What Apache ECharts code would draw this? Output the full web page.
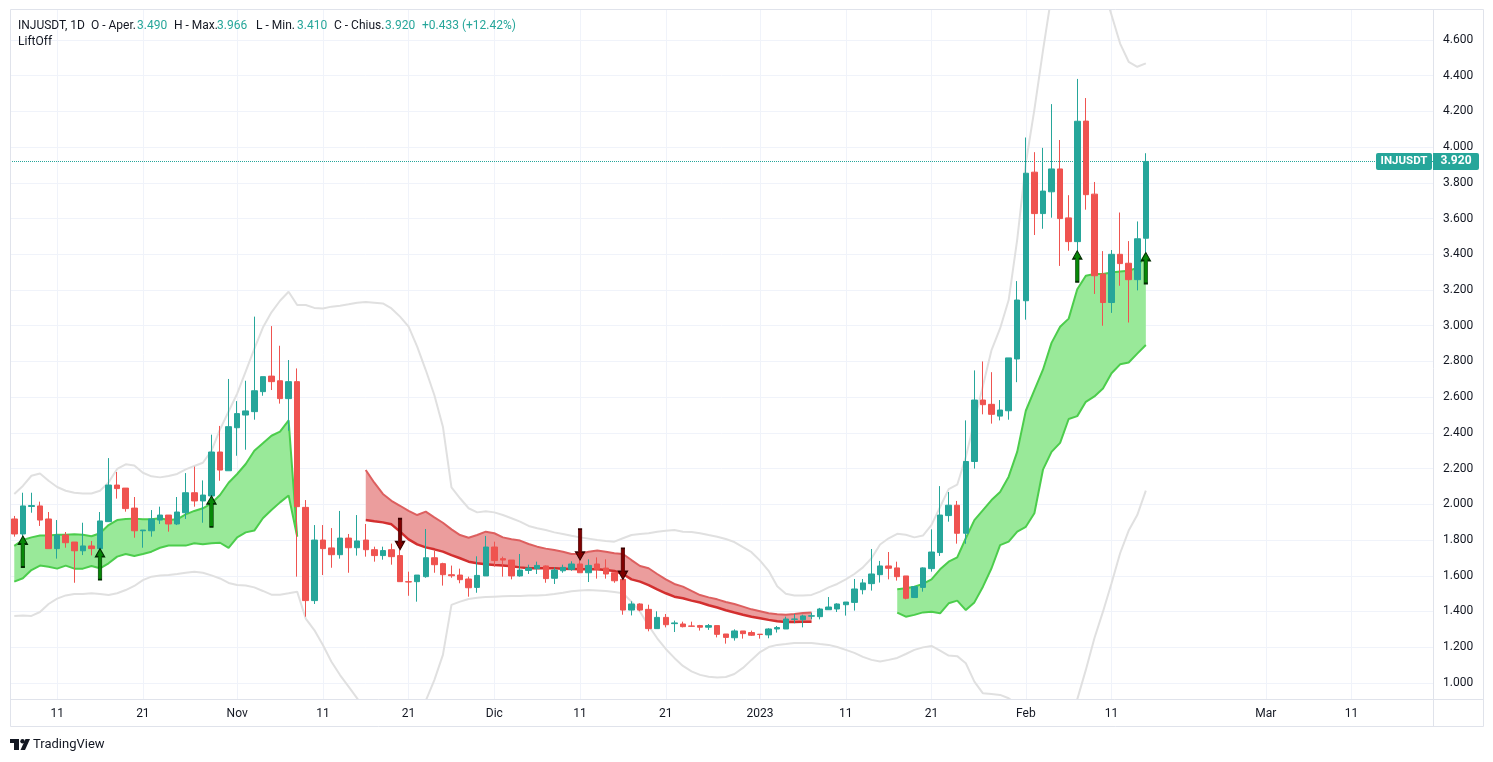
<!DOCTYPE html>
<html><head><meta charset="utf-8">
<script src="https://cdn.jsdelivr.net/npm/echarts@6/dist/echarts.min.js"></script>
<style>html,body{margin:0;padding:0;background:#fff}#c{width:1493px;height:762px}</style>
</head><body><div id="c"></div>
<script>
// ---------- data ----------
const startDate = [2022, 9, 6];   // first category (Oct 6 2022)
const dayCount = 166;             // categories up to Mar 20 2023
const tickLabels = [
  ['2022-10-11','11'],['2022-10-21','21'],['2022-11-01','Nov'],['2022-11-11','11'],['2022-11-21','21'],
  ['2022-12-01','Dic'],['2022-12-11','11'],['2022-12-21','21'],['2023-01-01','2023'],['2023-01-11','11'],
  ['2023-01-21','21'],['2023-02-01','Feb'],['2023-02-11','11'],['2023-03-01','Mar'],['2023-03-11','11']
];
const priceTicks = [1.0,1.2,1.4,1.6,1.8,2.0,2.2,2.4,2.6,2.8,3.0,3.2,3.4,3.6,3.8,4.0,4.2,4.4,4.6];
// [open, high, low, close]
const ohlc = [
[1.918,1.935,1.819,1.834],[1.834,2.065,1.823,1.991],[1.988,2.065,1.953,1.993],[1.991,2.015,1.879,1.912],
[1.918,1.957,1.752,1.752],[1.752,1.912,1.696,1.828],[1.828,1.845,1.757,1.785],[1.789,1.789,1.561,1.740],
[1.740,1.897,1.716,1.767],[1.767,1.795,1.714,1.752],[1.752,1.957,1.752,1.907],[1.903,2.259,1.903,2.108],
[2.108,2.181,2.032,2.088],[2.091,2.091,1.959,1.976],[1.979,2.041,1.813,1.852],[1.852,1.856,1.757,1.856],
[1.852,1.968,1.819,1.918],[1.912,1.987,1.890,1.940],[1.940,1.940,1.847,1.890],[1.890,2.041,1.884,1.957],
[1.953,2.175,1.918,2.065],[2.065,2.211,1.987,2.019],[2.019,2.134,1.897,2.052],[2.047,2.390,2.047,2.293],
[2.293,2.439,2.132,2.192],[2.188,2.702,2.188,2.435],[2.429,2.578,2.272,2.508],[2.500,2.692,2.306,2.523],
[2.519,3.051,2.474,2.636],[2.631,2.715,2.608,2.715],[2.718,2.998,2.640,2.687],[2.692,2.888,2.564,2.592],
[2.592,2.808,2.412,2.687],[2.687,2.761,1.595,1.987],[1.983,2.024,1.371,1.461],[1.461,1.884,1.442,1.800],
[1.800,1.884,1.604,1.752],[1.756,1.867,1.645,1.718],[1.718,1.963,1.696,1.811],[1.811,1.834,1.617,1.757],
[1.757,1.940,1.713,1.795],[1.800,1.890,1.707,1.746],[1.746,1.763,1.679,1.713],[1.713,1.763,1.690,1.741],
[1.746,1.780,1.662,1.707],[1.713,1.746,1.567,1.567],[1.567,1.623,1.488,1.565],[1.567,1.604,1.455,1.604],
[1.595,1.862,1.589,1.701],[1.701,1.741,1.617,1.662],[1.668,1.673,1.545,1.606],[1.606,1.657,1.589,1.600],
[1.604,1.640,1.558,1.578],[1.582,1.595,1.483,1.533],[1.535,1.709,1.505,1.602],[1.599,1.823,1.599,1.761],
[1.761,1.791,1.651,1.685],[1.696,1.707,1.595,1.688],[1.688,1.688,1.580,1.599],[1.599,1.722,1.595,1.632],
[1.630,1.662,1.610,1.643],[1.640,1.679,1.610,1.658],[1.655,1.658,1.561,1.584],[1.586,1.647,1.554,1.632],
[1.628,1.662,1.617,1.647],[1.636,1.681,1.628,1.666],[1.666,1.688,1.617,1.617],[1.617,1.692,1.565,1.658],
[1.666,1.703,1.584,1.636],[1.643,1.692,1.584,1.610],[1.617,1.617,1.561,1.572],[1.580,1.580,1.382,1.408],
[1.408,1.457,1.378,1.442],[1.442,1.446,1.401,1.408],[1.412,1.438,1.289,1.304],[1.304,1.401,1.304,1.367],
[1.367,1.386,1.311,1.326],[1.332,1.349,1.285,1.336],[1.330,1.343,1.311,1.315],[1.319,1.343,1.313,1.317],
[1.321,1.325,1.293,1.312],[1.312,1.330,1.297,1.321],[1.321,1.321,1.255,1.272],[1.274,1.274,1.220,1.255],
[1.253,1.300,1.237,1.291],[1.291,1.291,1.248,1.276],[1.282,1.293,1.263,1.267],[1.273,1.273,1.248,1.271],
[1.269,1.306,1.250,1.302],[1.302,1.319,1.282,1.310],[1.302,1.371,1.302,1.358],[1.356,1.386,1.334,1.358],
[1.354,1.382,1.311,1.375],[1.374,1.393,1.356,1.376],[1.371,1.420,1.356,1.414],[1.410,1.481,1.410,1.425],
[1.414,1.446,1.397,1.442],[1.438,1.453,1.377,1.453],[1.451,1.582,1.405,1.526],[1.522,1.582,1.496,1.560],
[1.556,1.750,1.517,1.610],[1.606,1.683,1.562,1.655],[1.655,1.733,1.580,1.642],[1.644,1.679,1.573,1.595],
[1.599,1.599,1.468,1.474],[1.478,1.543,1.478,1.539],[1.535,1.647,1.511,1.644],[1.640,1.860,1.623,1.733],
[1.730,2.102,1.711,1.940],[1.937,2.069,1.903,1.995],[1.995,2.019,1.780,1.838],[1.838,2.470,1.779,2.240],
[2.240,2.750,2.200,2.584],[2.584,2.800,2.504,2.558],[2.560,2.740,2.452,2.504],[2.494,2.584,2.470,2.528],
[2.524,2.820,2.474,2.820],[2.814,3.250,2.684,3.144],[3.140,4.054,3.034,3.854],[3.860,3.972,3.508,3.628],
[3.628,3.996,3.543,3.754],[3.750,4.241,3.605,3.878],[3.878,4.040,3.335,3.600],[3.604,3.731,3.420,3.471],
[3.471,4.382,3.420,4.145],[4.146,4.275,3.650,3.734],[3.737,3.805,3.178,3.280],[3.290,3.418,3.000,3.130],
[3.130,3.424,3.072,3.400],[3.400,3.634,3.224,3.348],[3.350,3.474,3.018,3.258],[3.258,3.584,3.198,3.487],
[3.490,3.966,3.410,3.920]
];
const bbUpper = [
2.058,2.103,2.160,2.173,2.132,2.097,2.076,2.065,2.061,2.061,2.076,2.123,2.198,2.224,2.218,2.177,2.157,2.151,2.159,2.170,
2.196,2.215,2.233,2.300,2.420,2.520,2.620,2.745,2.870,2.990,3.075,3.140,3.190,3.116,3.116,3.100,3.097,3.107,3.112,3.120,
3.129,3.133,3.129,3.125,3.097,3.051,2.995,2.883,2.752,2.612,2.435,2.095,2.034,1.978,1.955,1.961,1.955,1.940,1.922,1.903,
1.879,1.866,1.856,1.843,1.834,1.824,1.815,1.808,1.800,1.795,1.791,1.810,1.828,1.834,1.838,1.847,1.852,1.856,1.847,1.845,
1.838,1.828,1.819,1.806,1.789,1.760,1.732,1.685,1.628,1.541,1.499,1.489,1.489,1.493,1.511,1.535,1.554,1.580,1.610,1.647,
1.698,1.775,1.810,1.835,1.830,1.815,1.825,1.885,1.985,2.085,2.110,2.265,2.465,2.664,2.864,2.985,3.144,3.484,3.910,4.210,
4.540,4.850,5.050,5.150,5.200,5.150,5.050,4.900,4.740,4.580,4.478,4.450,4.469
];
const bbLower = [
1.375,1.378,1.375,1.397,1.442,1.472,1.490,1.498,1.498,1.502,1.498,1.492,1.502,1.520,1.543,1.576,1.595,1.601,1.604,1.610,
1.617,1.623,1.617,1.602,1.585,1.560,1.548,1.546,1.535,1.515,1.494,1.494,1.502,1.511,1.360,1.296,1.212,1.119,1.044,0.979,
0.914,0.840,0.770,0.710,0.670,0.660,0.680,0.770,0.900,1.016,1.157,1.437,1.455,1.470,1.477,1.481,1.483,1.485,1.487,1.487,
1.489,1.490,1.492,1.498,1.505,1.513,1.517,1.520,1.518,1.515,1.509,1.502,1.455,1.399,1.320,1.250,1.190,1.140,1.095,1.065,
1.045,1.035,1.030,1.033,1.050,1.084,1.129,1.173,1.201,1.213,1.218,1.224,1.224,1.224,1.218,1.213,1.201,1.185,1.168,1.146,
1.129,1.120,1.129,1.140,1.162,1.185,1.199,1.207,1.181,1.153,1.150,1.110,1.007,0.942,0.938,0.933,0.914,0.880,0.820,0.720,
0.620,0.550,0.550,0.700,0.908,1.073,1.250,1.399,1.558,1.726,1.853,1.940,2.077
];
// LiftOff bands
const liftUp1Start = 0;
const liftUp1Upper = [1.767,1.800,1.815,1.826,1.826,1.830,1.830,1.832,1.830,1.821,1.838,1.884,1.912,1.918,1.920,1.916,1.916,
  1.922,1.912,1.916,1.944,1.963,1.978,2.006,2.052,2.121,2.170,2.226,2.300,2.342,2.384,2.407,2.470,1.820];
const liftUp1Lower = [1.567,1.586,1.632,1.657,1.651,1.640,1.657,1.640,1.640,1.655,1.642,1.670,1.707,1.722,1.711,1.722,1.735,
  1.757,1.769,1.769,1.769,1.782,1.776,1.782,1.785,1.756,1.815,1.843,1.853,1.922,1.968,2.011,2.050,1.820];
const liftDownStart = 41;
const liftDownUpper = [2.192,2.121,2.058,2.020,1.992,1.963,1.940,1.959,1.927,1.897,1.860,1.828,1.813,1.828,1.847,1.838,1.815,
  1.804,1.797,1.778,1.763,1.752,1.744,1.735,1.722,1.722,1.735,1.741,1.735,1.726,1.722,1.688,1.655,1.642,1.610,1.580,1.554,
  1.539,1.515,1.492,1.479,1.468,1.453,1.442,1.427,1.412,1.401,1.390,1.384,1.382,1.386,1.392,1.395];
const liftDownLower = [1.912,1.905,1.899,1.888,1.847,1.804,1.776,1.759,1.748,1.735,1.716,1.698,1.679,1.670,1.664,1.660,1.657,
  1.653,1.647,1.642,1.642,1.642,1.642,1.640,1.638,1.636,1.636,1.636,1.632,1.627,1.610,1.580,1.567,1.548,1.524,1.502,1.483,
  1.474,1.461,1.450,1.435,1.422,1.407,1.394,1.382,1.371,1.362,1.353,1.345,1.341,1.341,1.343,1.343];
const liftUp2Start = 103;
const liftUp2Upper = [1.524,1.530,1.539,1.554,1.580,1.636,1.679,1.703,1.810,1.912,1.968,2.024,2.069,2.155,2.295,2.524,2.640,
  2.754,2.904,2.994,3.040,3.204,3.280,3.290,3.290,3.298,3.304,3.308,3.324,3.404];
const liftUp2Lower = [1.394,1.371,1.381,1.395,1.399,1.390,1.446,1.461,1.408,1.451,1.539,1.642,1.772,1.791,1.847,1.874,1.950,
  2.194,2.294,2.344,2.478,2.494,2.574,2.604,2.648,2.734,2.784,2.794,2.844,2.892];
const upArrowBars = [1, 10, 23, 124, 132];
const downArrowBars = [45, 66, 71];
const symbolName = 'INJUSDT';

// ---------- build ----------
const dates = [];
for (let i = 0; i < dayCount; i++) {
  dates.push(new Date(Date.UTC(startDate[0], startDate[1], startDate[2] + i)).toISOString().slice(0, 10));
}
const labelMap = {};
tickLabels.forEach(([d, t]) => { labelMap[d] = t; });
const pad = (arr, start) => dates.map((d, i) => (i >= start && i < start + arr.length) ? arr[i - start] : null);
const candleData = ohlc.map(([o, h, l, c]) => [o, c, l, h]);
const last = ohlc[ohlc.length - 1];
const prevClose = ohlc[ohlc.length - 2][3];
const FONT = "Roboto, 'Noto Sans', sans-serif";
const TXT = '#131722', UP = '#26a69a', DOWN = '#ef5350';

function band(key, upper, lower, start, fill, cUp, cLow, wUp, wLow) {
  const diff = upper.map((u, k) => +(u - lower[k]).toFixed(4));
  return [
    {type:'line', data: pad(lower, start), stack: key, symbol:'none', lineStyle:{opacity:0}, z:2, silent:true},
    {type:'line', data: pad(diff, start), stack: key, symbol:'none', lineStyle:{opacity:0},
     areaStyle:{color: fill, opacity: 1}, z:2, silent:true},
    {type:'line', data: pad(upper, start), symbol:'none', lineStyle:{color: cUp, width: wUp}, z:3, silent:true},
    {type:'line', data: pad(lower, start), symbol:'none', lineStyle:{color: cLow, width: wLow}, z:3, silent:true}
  ];
}

const upArrowPath = 'path://M5,0 L10,8 L7,8 L7,31 L3,31 L3,8 L0,8 Z';
const downArrowPath = 'path://M3,0 L7,0 L7,23 L10,23 L5,31 L0,23 L3,23 Z';

const option = {
  animation: false,
  backgroundColor: '#ffffff',
  grid: {left: 10, right: 60, top: 10, bottom: 63},
  xAxis: {
    type: 'category', data: dates, boundaryGap: true,
    axisLine: {show: false}, axisTick: {show: false}, splitLine: {show: false},
    axisLabel: {
      interval: (i, v) => labelMap[v] !== undefined,
      formatter: v => labelMap[v] || '',
      color: TXT, fontSize: 12, fontFamily: FONT, margin: 9
    }
  },
  yAxis: {
    type: 'value', position: 'right', min: 0.91, max: 4.768, scale: true,
    axisLine: {show: false}, axisTick: {show: false}, axisLabel: {show: false}, splitLine: {show: false}
  },
  series: [
    { // grid lines + price tick labels
      type: 'line', data: dates.map(() => null), symbol: 'none', z: 0, zlevel: 0, silent: true,
      markLine: {
        silent: true, symbol: 'none', animation: false, z: 0,
        lineStyle: {color: '#f0f3fa', width: 1, type: 'solid'},
        label: {show: true, position: 'end', distance: 10, color: TXT, fontSize: 12, fontFamily: FONT,
                formatter: p => Number(p.value).toFixed(3)},
        emphasis: {disabled: true},
        data: [
          ...priceTicks.map(v => ({yAxis: v})),
          ...tickLabels.map(([d]) => ({xAxis: d, label: {show: false}}))
        ]
      }
    },
    {type:'line', data: bbUpper, symbol:'none', lineStyle:{color:'#e0e0e0', width:2}, z:1, silent:true},
    {type:'line', data: bbLower, symbol:'none', lineStyle:{color:'#e0e0e0', width:2}, z:1, silent:true},
    ...band('g1', liftUp1Upper, liftUp1Lower, liftUp1Start, '#99e999', '#4ccd4c', '#4ccd4c', 2, 2),
    ...band('r1', liftDownUpper, liftDownLower, liftDownStart, '#eb9d9d', '#dd5f5f', '#d32f2f', 2, 2.5),
    ...band('g2', liftUp2Upper, liftUp2Lower, liftUp2Start, '#99e999', '#4ccd4c', '#4ccd4c', 2, 2),
    {
      type: 'candlestick', data: candleData, barWidth: 6, z: 4, silent: true,
      itemStyle: {color: UP, color0: DOWN, borderColor: UP, borderColor0: DOWN, borderWidth: 1},
      markLine: {
        silent: true, symbol: 'none', label: {show: false}, z: 4,
        lineStyle: {color: UP, type: 'dotted', width: 1},
        data: [{yAxis: last[3]}]
      }
    },
    {
      type: 'scatter', z: 5, silent: true, symbol: upArrowPath, symbolSize: [9, 31], symbolOffset: [0, '50%'],
      itemStyle: {color: '#078807', borderColor: '#022b02', borderWidth: 1, opacity: 1},
      data: upArrowBars.map(i => [i, ohlc[i][2]])
    },
    {
      type: 'scatter', z: 5, silent: true, symbol: downArrowPath, symbolSize: [9, 31], symbolOffset: [0, '-50%'],
      itemStyle: {color: '#800000', borderColor: '#3a0000', borderWidth: 1, opacity: 1},
      data: downArrowBars.map(i => [i, ohlc[i][1]])
    }
  ]
};

const chart = echarts.init(document.getElementById('c'), null, {renderer: 'canvas', width: 1493, height: 762});
chart.setOption(option);

const yLast = chart.convertToPixel({yAxisIndex: 0}, last[3]);
const chg = last[3] - prevClose;
const pct = chg / prevClose * 100;
const sgn = v => (v >= 0 ? '+' : '') ;
const legend = [
  ['INJUSDT, 1D', 18, TXT], ['O - Aper.', 91, TXT], [last[0].toFixed(3), 137, UP],
  ['H - Max.', 174, TXT], [last[1].toFixed(3), 217, UP],
  ['L - Min.', 256, TXT], [last[2].toFixed(3), 297, UP],
  ['C - Chius.', 334, TXT], [last[3].toFixed(3), 385, UP],
  [sgn(chg) + chg.toFixed(3) + ' (' + sgn(pct) + pct.toFixed(2) + '%)', 422, UP]
];
const border = '#e0e3eb';
const g = [
  {type:'rect', z:100, silent:true, shape:{x:10.5, y:9.5, width:1473, height:717}, style:{fill:'none', stroke:border, lineWidth:1}},
  {type:'line', z:100, silent:true, shape:{x1:1433.5, y1:10, x2:1433.5, y2:727}, style:{stroke:border, lineWidth:1}},
  {type:'line', z:100, silent:true, shape:{x1:10, y1:699.5, x2:1483, y2:699.5}, style:{stroke:border, lineWidth:1}},
  ...legend.map(([t, x, c]) => ({type:'text', z:101, silent:true, style:{text:t, x:x, y:25.5, fill:c, font:'12px ' + FONT, verticalAlign:'middle'}})),
  {type:'text', z:101, silent:true, style:{text:'LiftOff', x:18, y:42, fill:TXT, font:'12px ' + FONT, verticalAlign:'middle'}},
  // last price labels
  {type:'rect', z:102, silent:true, shape:{x:1376, y:yLast-8.5, width:56, height:17, r:2}, style:{fill:UP}},
  {type:'text', z:103, silent:true, style:{text:symbolName, x:1404, y:yLast, fill:'#ffffff', font:'bold 11.5px ' + FONT, align:'center', verticalAlign:'middle'}},
  {type:'rect', z:102, silent:true, shape:{x:1433, y:yLast-8.5, width:46, height:17, r:[0,2,2,0]}, style:{fill:UP}},
  {type:'text', z:103, silent:true, style:{text:last[3].toFixed(3), x:1456, y:yLast, fill:'#ffffff', font:'bold 12px ' + FONT, align:'center', verticalAlign:'middle'}},
  // TradingView logo
  {type:'rect', z:101, silent:true, shape:{x:10, y:739, width:9, height:4}, style:{fill:TXT}},
  {type:'rect', z:101, silent:true, shape:{x:14, y:739, width:5, height:11}, style:{fill:TXT}},
  {type:'circle', z:101, silent:true, shape:{cx:22.5, cy:741.2, r:2.2}, style:{fill:TXT}},
  {type:'polygon', z:101, silent:true, shape:{points:[[25.5,739],[30,739],[25,750],[20.5,750]]}, style:{fill:TXT}},
  {type:'text', z:101, silent:true, style:{text:'TradingView', x:33, y:745, fill:TXT, font:'13px ' + FONT, verticalAlign:'middle'}}
];
chart.setOption({graphic: {elements: g}});
</script>
</body></html>
